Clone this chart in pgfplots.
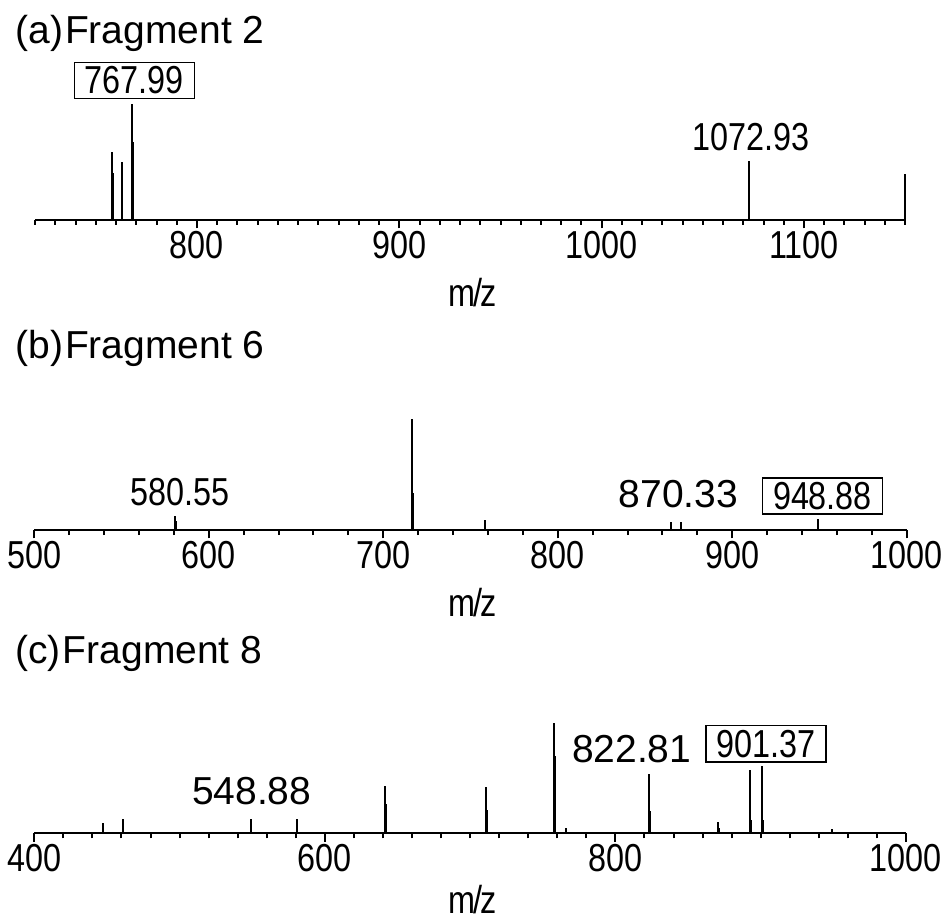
\documentclass[border=0pt]{standalone}
\usepackage{fontspec}
\setmainfont{Liberation Sans}
\newfontfamily\condfont[FakeStretch=0.83]{Liberation Sans}
\usepackage{pgfplots}
\pgfplotsset{compat=1.18}

\newcommand\bigtxt{\fontsize{19.5}{22}\selectfont}

\pgfplotsset{
  ms/.style={
    scale only axis, anchor=south west, height=60pt,
    axis x line=bottom, hide y axis,
    axis line style={-, line width=1.1pt},
    ymin=0, clip=false,
    tick align=outside, major tick length=4.2pt, minor tick length=2.5pt,
    tick style={black, line width=1pt},
    xticklabel style={font=\condfont\bigtxt, inner sep=0pt, yshift=-1pt},
  },
  stick/.style={ycomb, black, line width=1pt},
}

\begin{document}
\begin{tikzpicture}
\useasboundingbox (0,0) rectangle (474pt,-460pt);

% (a) Fragment 2
\begin{axis}[ms, at={(17.55pt,-110pt)}, width=435.05pt,
  xmin=720, xmax=1150, ymax=103.4,
  xtick={800,900,1000,1100}, xticklabels={800,900,1000,1100},
  minor xtick={720,730,...,1150}]
\addplot[stick] coordinates {(758,58.6)(763,50)(768,100)(1072.9,50.9)(1150,39.7)};
\addplot[stick] coordinates {(758.5,40.5)(768.5,67.2)};
\end{axis}

% (b) Fragment 6
\begin{axis}[ms, at={(17.15pt,-265pt)}, width=436.2pt,
  xmin=500, xmax=1000, ymax=108.1,
  xtick={500,600,...,1000}, xticklabels={500,600,700,800,900,1000},
  minor xtick={500,520,...,1000}]
\addplot[stick] coordinates {(580.4,12.6)(716.6,100)(758.3,9)(864.9,6.8)(870.4,7.2)(949.3,9.9)};
\addplot[stick] coordinates {(717.2,33)(581,8)};
\end{axis}

% (c) Fragment 8
\begin{axis}[ms, at={(17.15pt,-416.65pt)}, width=435.85pt,
  xmin=400, xmax=1000, ymax=109.1,
  xtick={400,600,800,1000}, xticklabels={400,600,800,1000},
  minor xtick={400,420,...,1000}]
\addplot[stick] coordinates {(447.5,9.1)(460.8,12.7)(548.9,12.7)(580.5,12.7)
  (641.3,43.3)(710.6,42.5)(757.8,100)(765.8,4.5)(822.9,53.9)(870.6,10.6)
  (892.4,57.5)(901.2,61.2)(949.3,3.6)};
\addplot[stick] coordinates {(642,27)(711.3,21)(758.5,70)(823.6,20)(871.3,5)(893.1,12)(901.9,12)};
\end{axis}

\begin{scope}[x=0.5pt, y=-0.5pt]
  \node[anchor=base west, inner sep=0, font=\bigtxt] at (15,44) {(a)\kern1pt Fragment 2};
  \node[anchor=base west, inner sep=0, font=\bigtxt] at (15,358) {(b)\kern1pt Fragment 6};
  \node[anchor=base west, inner sep=0, font=\bigtxt] at (15,663) {(c)\kern1pt Fragment 8};

  \foreach \yy in {306,616,913}
    \node[anchor=base, inner sep=0, font=\condfont\bigtxt] at (473,\yy) {m\kern-1pt/\kern-1pt z};

  \tikzset{cl/.style={inner sep=0, font=\condfont\bigtxt},
           nl/.style={inner sep=0, font=\bigtxt},
           bx/.style={draw, line width=0.7pt, inner xsep=5.25pt, inner ysep=2.1pt, font=\condfont\bigtxt}}
  \node[bx] at (134.5,80.3) {767.99};
  \node[cl] at (751,137.4) {1072.93};
  \node[cl] at (180,492.5) {580.55};
  \node[nl] at (678.3,494.2) {870.33};
  \node[bx] at (822.5,496) {948.88};
  \node[nl] at (251.7,790.8) {548.88};
  \node[nl] at (631.7,749.2) {822.81};
  \node[bx] at (766,743.8) {901.37};
\end{scope}
\end{tikzpicture}
\end{document}
